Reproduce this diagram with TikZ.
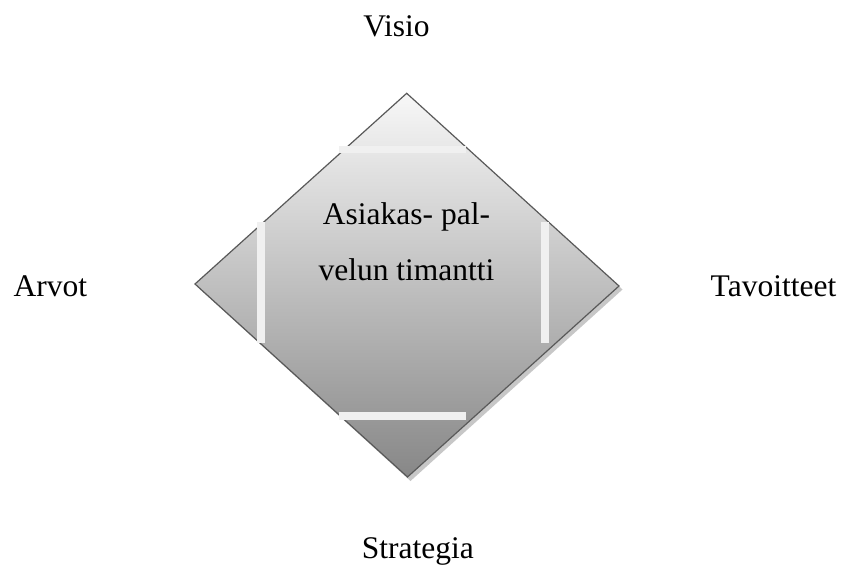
\documentclass[tikz,border=0pt]{standalone}
\usepackage{fontspec}
\setmainfont{Liberation Serif}
\tikzset{
  lbl/.style={font=\fontsize{31.5}{38}\selectfont, inner sep=0pt, anchor=base},
  bar/.style={fill=white!94!black, draw=none},
  dia/.style={draw=black!65, line width=1.2pt, line join=miter, top color=white!97!black, bottom color=black!47},
}
\begin{document}
\begin{tikzpicture}[x=1pt,y=-1pt]
\useasboundingbox (0,0) rectangle (841,565);
% shadow
\fill[black!22] (409.5,97.5) -- (622.5,289.5) -- (410.5,481) -- (198.5,288) -- cycle;
% diamond
\path[dia] (406.7,93.3) coordinate (T) -- (619,286) coordinate (R) -- (407.5,477) coordinate (B) -- (195,284) coordinate (L) -- cycle;
% bars
\path[bar] (339,145.7) rectangle (465.7,153.3);
\path[bar] (339,411.7) rectangle (465.7,420);
\path[bar] (257.3,221.7) rectangle (265.3,343.3);
\path[bar] (541,221.7) rectangle (549,343.3);
% center text
\node[lbl] (c1) at (406.5,224) {Asiakas- pal-};
\node[lbl] (c2) at (406.5,280) {velun timantti};
% labels
\node[lbl] (v) at (396.5,36.7) {Visio};
\node[lbl, anchor=base west] (a) at (13.5,296.7) {Arvot};
\node[lbl, anchor=base west] (t) at (710.5,296.7) {Tavoitteet};
\node[lbl, anchor=base west] (s) at (361.7,558) {Strategia};
\end{tikzpicture}
\end{document}
